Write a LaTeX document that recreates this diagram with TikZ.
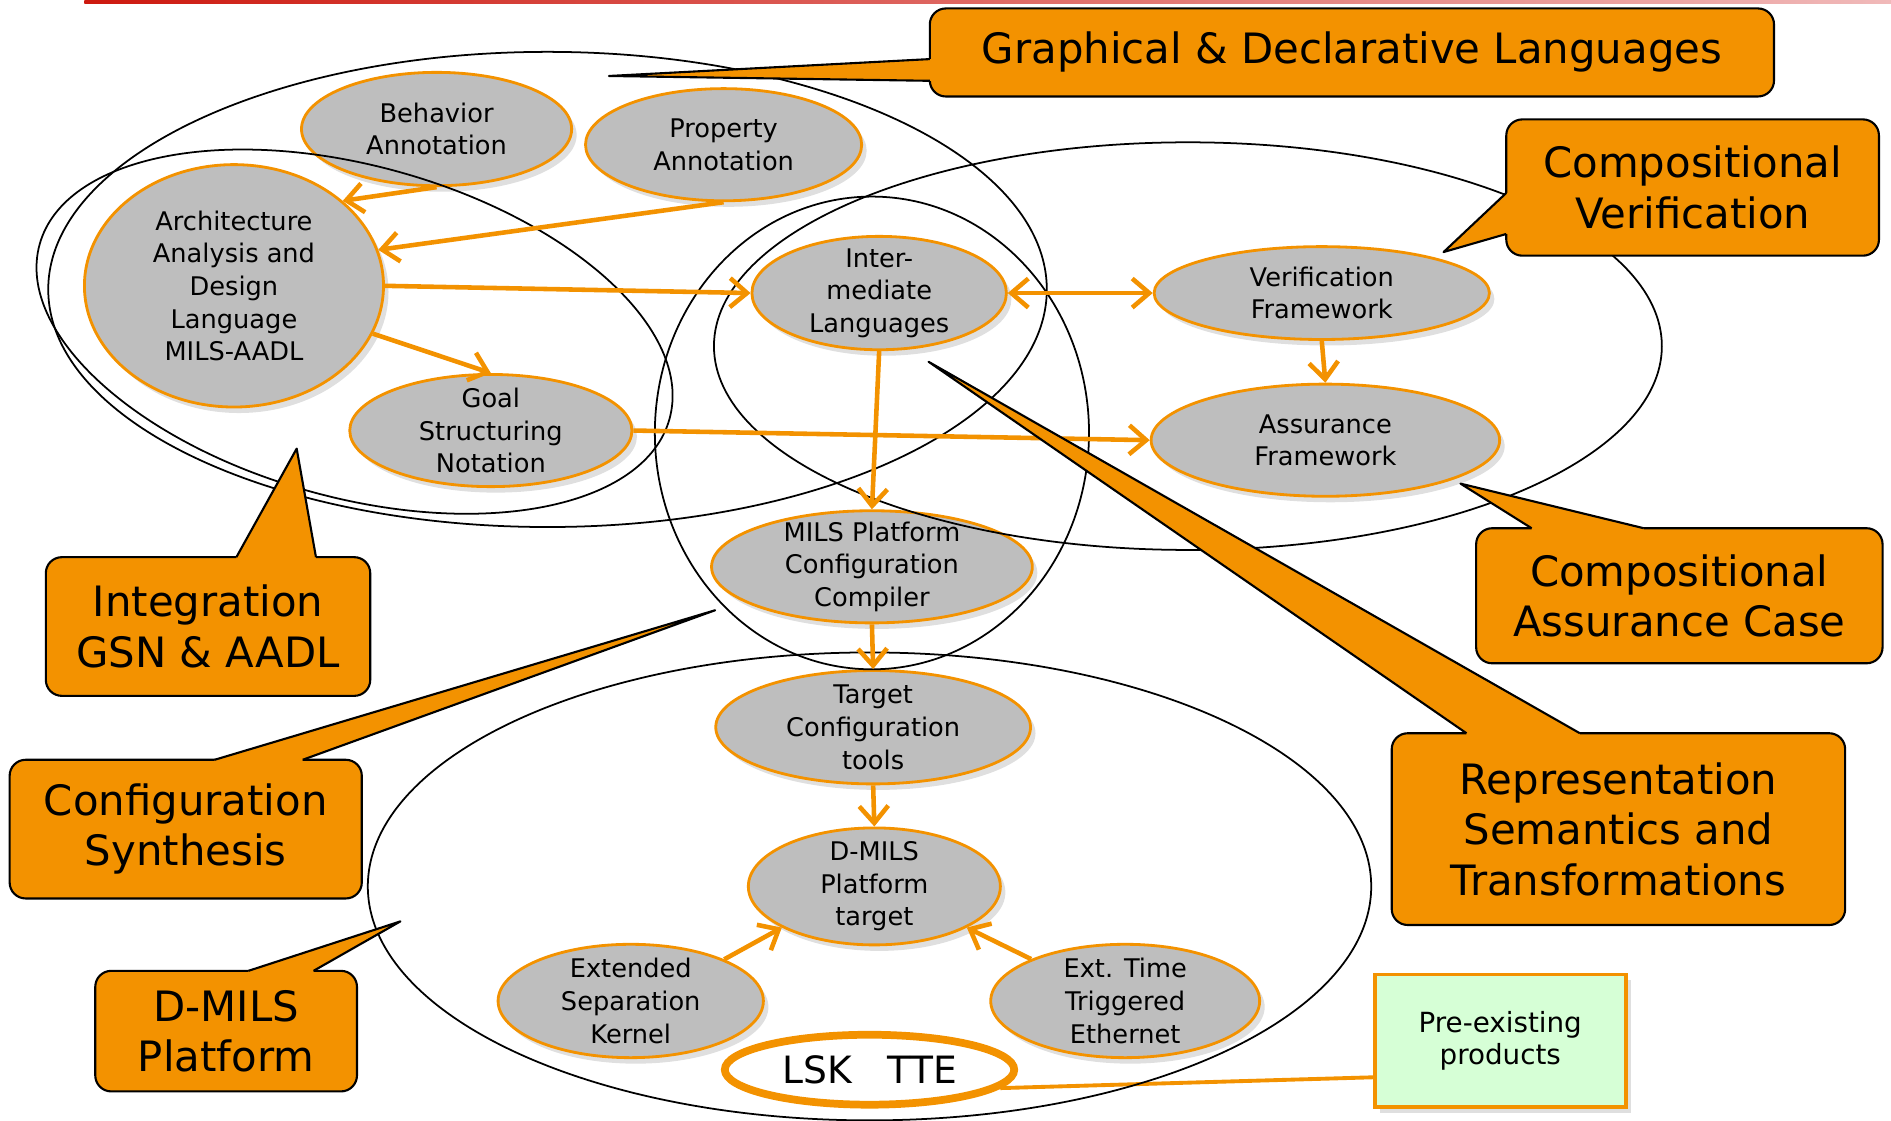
\documentclass[tikz,border=0pt]{standalone}
\usepackage{fontspec}
\setmainfont{DejaVu Sans}
\usetikzlibrary{shapes.geometric,arrows.meta,shadows,calc}
\definecolor{tagorange}{RGB}{243,146,0}
\definecolor{bubblegray}{RGB}{190,190,190}
\definecolor{preexist}{RGB}{214,255,214}
\newcommand\pxu{0.1206mm}
\newcommand\nodefont{\fontsize{7.3}{9.3}\selectfont}
\newcommand\prefont{\fontsize{7.9}{9.3}\selectfont}
\newcommand\tagfont{\fontsize{11.9}{14.4}\selectfont}
\newcommand\lskfont{\fontsize{10.7}{12}\selectfont}
\tikzset{
  sz/.style 2 args={minimum width=#1*\pxu, minimum height=#2*\pxu},
  bubble/.style={ellipse, draw=tagorange, line width=0.8pt, fill=bubblegray,
    align=center, inner sep=-2pt, font=\nodefont,
    drop shadow={shadow xshift=0.5mm, shadow yshift=-0.6mm, opacity=0.25}},
  tag/.style={rectangle, draw=black, line width=0.6pt, fill=tagorange,
    rounded corners=1.6mm, align=center, inner sep=0pt, font=\tagfont},
  tagline/.style={draw=black, line width=0.6pt, line join=round},
  flow/.style={draw=tagorange, line width=1.3pt, -{Straight Barb[length=1.7mm,width=2.9mm]}},
  flowboth/.style={draw=tagorange, line width=1.3pt,
    {Straight Barb[length=1.7mm,width=2.9mm]}-{Straight Barb[length=1.7mm,width=2.9mm]}},
  zone/.style={draw=black, line width=0.5pt},
}
% pointer of a callout: tip, two base points on the box, inward shift
\newcommand\pointer[4]{
  \fill[tagorange] #2 -- #1 -- #3 -- ($#3+#4$) -- ($#2+#4$) -- cycle;
  \draw[tagline] #2 -- #1 -- #3;
}

\begin{document}
\begin{tikzpicture}[x=\pxu, y=-\pxu]
  \useasboundingbox (0,0) rectangle (1568,929);
  \shade[left color={rgb,255:red,205;green,25;blue,15}, right color={rgb,255:red,240;green,185;blue,185}]
    (70,0) rectangle (1568,3);

  % components
  \node[bubble, sz={224}{94}] (beh) at (362,107) {Behavior\\Annotation};
  \node[bubble, sz={229}{93}] (prop) at (600,120) {Property\\Annotation};
  \node[bubble, sz={248}{201}] (arch) at (194,237) {Architecture\\Analysis and\\Design\\Language\\MILS-AADL};
  \node[bubble, sz={234}{93}] (gsn) at (407,357) {Goal\\Structuring\\Notation};
  \node[bubble, sz={211}{94}] (inter) at (729,243) {Inter-\\mediate\\Languages};
  \node[bubble, sz={278}{77}] (verif) at (1096,243) {Verification\\Framework};
  \node[bubble, sz={289}{93}] (assur) at (1099,365) {Assurance\\Framework};
  \node[bubble, sz={266}{93}] (mpcc) at (723,470) {MILS Platform\\Configuration\\Compiler};
  \node[bubble, sz={261}{94}] (tct) at (724,603) {Target\\Configuration\\tools};
  \node[bubble, sz={209}{97}] (dmils) at (725,735) {D-MILS\\Platform\\target};
  \node[bubble, sz={220}{94}] (esk) at (523,830) {Extended\\Separation\\Kernel};
  \node[bubble, sz={223}{94}] (ette) at (933,830) {Ext. Time\\Triggered\\Ethernet};
  \node[draw=tagorange, line width=1.1pt, fill=preexist, sz={208}{110}, align=center,
    font=\prefont, drop shadow={shadow xshift=0.5mm, shadow yshift=-0.6mm, opacity=0.25}]
    (pre) at (1244,863) {Pre-existing\\products};
  \node[ellipse, draw=tagorange, line width=2.2pt, fill=white, sz={240}{58},
    inner sep=0pt, font=\lskfont] (lsk) at (721,887) {LSK~~~TTE};
  \draw[tagorange, line width=1.1pt] (pre.196.6) -- (lsk.-8);

  % areas
  \draw[zone] (454,240) ellipse [x radius=414, y radius=197];
  \draw[zone, shift={(294,275)}, rotate=-15.5] (0,0) ellipse [x radius=271, y radius=137.5];
  \draw[zone] (985,287) ellipse [x radius=393, y radius=169];
  \draw[zone] (723,359) ellipse [x radius=180, y radius=196];
  \draw[zone] (721,735) ellipse [x radius=416, y radius=194];

  % flows
  \draw[flow] (beh.south) -- (arch.38);
  \draw[flow] (prop.south) -- (arch.14);
  \draw[flow] (arch.east) -- (inter.west);
  \draw[flow] (arch.-19) -- (gsn.north);
  \draw[flowboth] (inter.east) -- (verif.west);
  \draw[flow] (verif.south) -- (assur.north);
  \draw[flow] (gsn.east) -- (assur.west);
  \draw[flow] (inter.south) -- (mpcc.north);
  \draw[flow] (mpcc.south) -- (tct.north);
  \draw[flow] (tct.south) -- (dmils.north);
  \draw[flow] (esk.24) -- (dmils.204);
  \draw[flow] (ette.156) -- (dmils.-24);

  % callouts
  \node[tag, sz={700}{73}] (gdl) at (1121,43.5) {Graphical \& Declarative Languages};
  \coordinate (gdltip) at (505,63);
  \pointer{(gdltip)}{(771,49)}{(771,67)}{(8,0)}
  \node[tag, sz={309}{113}] (cver) at (1403.5,155.5) {Compositional\\Verification};
  \coordinate (cvertip) at (1197,209);
  \pointer{(cvertip)}{(1249,160)}{(1249,194)}{(8,0)}
  \node[tag, sz={337}{112}] (cac) at (1392.5,494) {Compositional\\Assurance Case};
  \coordinate (cactip) at (1211,401);
  \pointer{(cactip)}{(1270,438)}{(1363,438)}{(0,8)}
  \node[tag, sz={376}{159}] (rst) at (1342,687.5) {Representation\\Semantics and\\Transformations};
  \coordinate (rsttip) at (770,300);
  \pointer{(rsttip)}{(1216,608)}{(1310,608)}{(0,8)}
  \node[tag, sz={269}{115}] (igsn) at (172.5,519.5) {Integration\\GSN \& AADL};
  \coordinate (igsntip) at (246,372);
  \pointer{(igsntip)}{(196,462)}{(262,462)}{(0,8)}
  \node[tag, sz={292}{115}] (csyn) at (154,687.5) {Configuration\\Synthesis};
  \coordinate (csyntip) at (593,506);
  \pointer{(csyntip)}{(178,630)}{(251,630)}{(0,8)}
  \node[tag, sz={217}{100}] (dmp) at (187.5,855) {D-MILS\\Platform};
  \coordinate (dmptip) at (332,764);
  \pointer{(dmptip)}{(206,805)}{(260,805)}{(0,8)}
\end{tikzpicture}
\end{document}
